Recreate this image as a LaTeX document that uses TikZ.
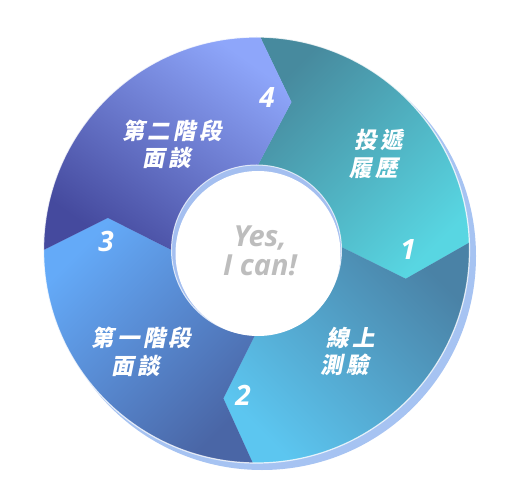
\documentclass[tikz,border=0pt]{standalone}
\usepackage{fontspec}
\newfontfamily\cjkfont[LetterSpace=14]{Noto Sans CJK TC}
\newfontfamily\latfont{Open Sans}
\definecolor{rimblue}{HTML}{A6C3F2}
\definecolor{holerim}{HTML}{A4BFF0}
\definecolor{sAa}{HTML}{478A9E}
\definecolor{sAb}{HTML}{58D6E2}
\definecolor{sBa}{HTML}{4A82A6}
\definecolor{sBb}{HTML}{5CC6F0}
\definecolor{sCa}{HTML}{4A66A6}
\definecolor{sCb}{HTML}{64AAF8}
\definecolor{sDa}{HTML}{454A9E}
\definecolor{sDb}{HTML}{8EA6FA}
\definecolor{yesgray}{HTML}{BDBDBD}
\tikzset{
  cjklabel/.style={text=white, font=\cjkfont\bfseries\fontsize{22.5}{27.5}\selectfont,
    align=center, inner sep=0pt, xslant=0.2, transform shape},
  numlabel/.style={text=white, font=\latfont\bfseries\itshape\fontsize{28}{30}\selectfont, inner sep=0pt},
  yeslabel/.style={text=yesgray, font=\latfont\bfseries\itshape\fontsize{29}{28.5}\selectfont, align=center, inner sep=0pt},
}
\begin{document}
\begin{tikzpicture}[x=1pt,y=1pt]
\useasboundingbox (-256.5,-250) rectangle (261.5,250);
\fill[white] (-256.5,-250) rectangle (261.5,250);
\def\Ro{213}\def\Ri{85}\def\Rm{152}
% outer shadow rim
\fill[rimblue] (5.5,-6) circle (214);
% segment 1 (top right)
\shade[left color=sAa, right color=sAb, shading angle=45]
  (89:\Ro) arc[start angle=89, end angle=2, radius=\Ro] -- (-10.9:\Rm) -- (2:\Ri)
  arc[start angle=2, end angle=89, radius=\Ri] -- (76.7:\Rm) -- cycle;
% segment 2 (bottom right)
\shade[left color=sBa, right color=sBb, shading angle=-45]
  (2:\Ro) arc[start angle=2, end angle=-91, radius=\Ro] -- (-102.6:\Rm) -- (-91:\Ri)
  arc[start angle=-91, end angle=2, radius=\Ri] -- (-10.9:\Rm) -- cycle;
% segment 3 (bottom left)
\shade[left color=sCa, right color=sCb, shading angle=-135]
  (-91:\Ro) arc[start angle=-91, end angle=-180, radius=\Ro] -- (167.8:\Rm) -- (180:\Ri)
  arc[start angle=180, end angle=269, radius=\Ri] -- (-102.6:\Rm) -- cycle;
% segment 4 (top left)
\shade[left color=sDa, right color=sDb, shading angle=145]
  (180:\Ro) arc[start angle=180, end angle=89, radius=\Ro] -- (76.7:\Rm) -- (89:\Ri)
  arc[start angle=89, end angle=180, radius=\Ri] -- (167.8:\Rm) -- cycle;
\draw[white, line width=1.2pt, opacity=.8] (0,0) circle (\Ro);
% hole
\fill[holerim] (0,0) circle (\Ri);
\draw[white, line width=1pt, opacity=.7] (0,0) circle (\Ri);
\fill[white] (1.5,-3.5) circle (82.5);
% labels
\node[cjklabel] (t1) at (121.5,96) {投遞\\履歷};
\node[cjklabel] (t2) at (93,-101.5) {線上\\測驗};
\node[cjklabel] (t3) at (-116,-102) {第一階段\\面談};
\node[cjklabel] (t4) at (-85.5,105.5) {第二階段\\面談};
\node[numlabel] (n1) at (151.5,0) {1};
\node[numlabel] (n2) at (-13.5,-145) {2};
\node[numlabel] (n3) at (-150.5,9) {3};
\node[numlabel] (n4) at (10.5,152) {4};
\node[yeslabel] (yes) at (3.5,-1) {Yes,\\I can!};
\end{tikzpicture}
\end{document}
